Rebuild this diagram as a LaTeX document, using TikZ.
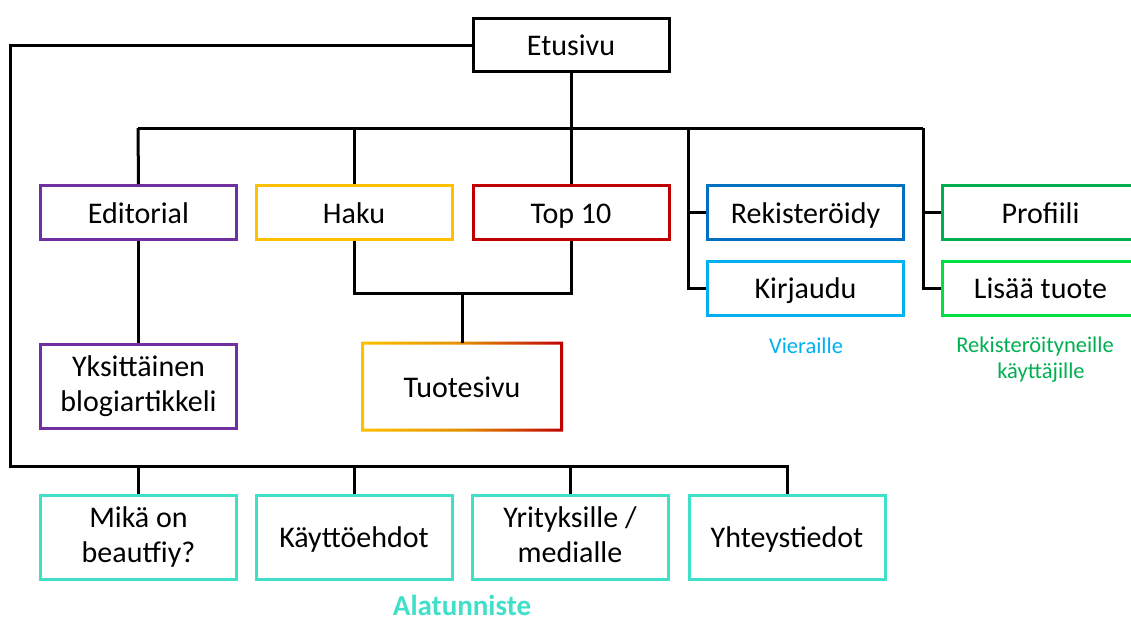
\documentclass[tikz,border=0pt]{standalone}
\usepackage{fontspec}
\setmainfont{Carlito}
\definecolor{cpurple}{HTML}{7030A0}
\definecolor{cyellow}{HTML}{FFC000}
\definecolor{cred}{HTML}{C00000}
\definecolor{corange}{HTML}{E39000}
\definecolor{cblue}{HTML}{0070C0}
\definecolor{clblue}{HTML}{00B0F0}
\definecolor{cgreen}{HTML}{00B050}
\definecolor{clgreen}{HTML}{00E040}
\definecolor{cteal}{HTML}{40E0C8}
\begin{document}
\begin{tikzpicture}[x=1pt,y=-1pt,
  boxbase/.style={rectangle,draw,line width=3pt,inner sep=0pt,minimum width=196pt,minimum height=54pt,
    align=center,font=\fontsize{30}{35}\selectfont,fill=white},
  box/.style={boxbase,text height=21pt,text depth=0pt},
  tallbox/.style={boxbase,minimum height=84pt},
  tallone/.style={box,minimum height=84pt},
  conn/.style={line width=3pt,line join=miter},
  note/.style={font=\fontsize{22.5}{27}\selectfont,inner sep=0pt}]
\useasboundingbox (0,0) rectangle (1131,622);
\clip (0,0) rectangle (1131,622);
% nodes
\node[box,minimum height=53pt] (etu) at (571,45) {Etusivu};
\node[box,draw=cpurple] (edit) at (138.5,212.5) {Editorial};
\node[box,draw=cyellow] (haku) at (354,212.5) {Haku};
\node[box,draw=cred] (top) at (571,212.5) {Top 10};
\node[box,draw=cblue] (rek) at (805.5,212.5) {Rekisteröidy};
\node[box,draw=clblue] (kir) at (805.5,288) {Kirjaudu};
\node[box,draw=cgreen] (prof) at (1040.5,212.5) {Profiili};
\node[box,draw=clgreen] (lis) at (1040.5,288) {Lisää tuote};
\node[tallbox,draw=cpurple] (yks) at (138.5,386.5) {Yksittäinen\\blogiartikkeli};
\node[tallone,draw=none,fill=none] (tuo) at (462,386.5) {Tuotesivu};
\node[tallbox,draw=cteal] (f1) at (138.5,537) {Mikä on\\beautfiy?};
\node[tallone,draw=cteal] (f2) at (354,537) {Käyttöehdot};
\node[tallbox,draw=cteal] (f3) at (570,537) {Yrityksille /\\medialle\vphantom{y}};
\node[tallone,draw=cteal] (f4) at (787,537) {Yhteystiedot};
\node[note,text=clblue] (vie) at (806,346) {Vieraille};
\node[note,text=cgreen] (reg1) at (1035,346) {Rekisteröityneille};
\node[note,text=cgreen] (reg2) at (1041,373) {käyttäjille};
\node[font=\bfseries\fontsize{29}{34}\selectfont,text=cteal,inner sep=0pt,anchor=base] (ala) at (462,615) {Alatunniste};
% gradient border of Tuotesivu
\shade[left color=cyellow,right color=cred,middle color=corange,even odd rule]
  ([shift={(-1.5,1.5)}]tuo.south west) rectangle ([shift={(1.5,-1.5)}]tuo.north east)
  ([shift={(1.5,-1.5)}]tuo.south west) rectangle ([shift={(-1.5,1.5)}]tuo.north east);
% coordinates
\coordinate (bus) at (571,128);
\coordinate (bl) at (138,128);
\coordinate (br) at (923,128);
\coordinate (vr) at (688,128);
\coordinate (ll) at (10,466);
\coordinate (lr) at (787,466);
\coordinate (ht) at (462,293);
% connectors
\draw[conn] (etu.west) -| (ll) -- (lr) -- (f4.north);
\draw[conn] (ll -| f1.north) -- (f1.north);
\draw[conn] (ll -| f2.north) -- (f2.north);
\draw[conn] (ll -| f3.north) -- (f3.north);
\draw[conn] (etu.south) -- (bus);
\draw[conn] (bl) -- (br);
\draw[conn] (bl) -- (edit.north);
\draw[conn] (bus -| haku.north) -- (haku.north);
\draw[conn] (bus) -- (top.north);
\draw[conn] (vr) |- (kir.west);
\draw[conn] (vr |- rek.west) -- (rek.west);
\draw[conn] (br) |- (lis.west);
\draw[conn] (br |- prof.west) -- (prof.west);
\draw[conn] (edit.south) -- (yks.north);
\draw[conn] (haku.south) |- (ht) -| (top.south);
\draw[conn] (ht) -- (tuo.north);
\end{tikzpicture}
\end{document}
